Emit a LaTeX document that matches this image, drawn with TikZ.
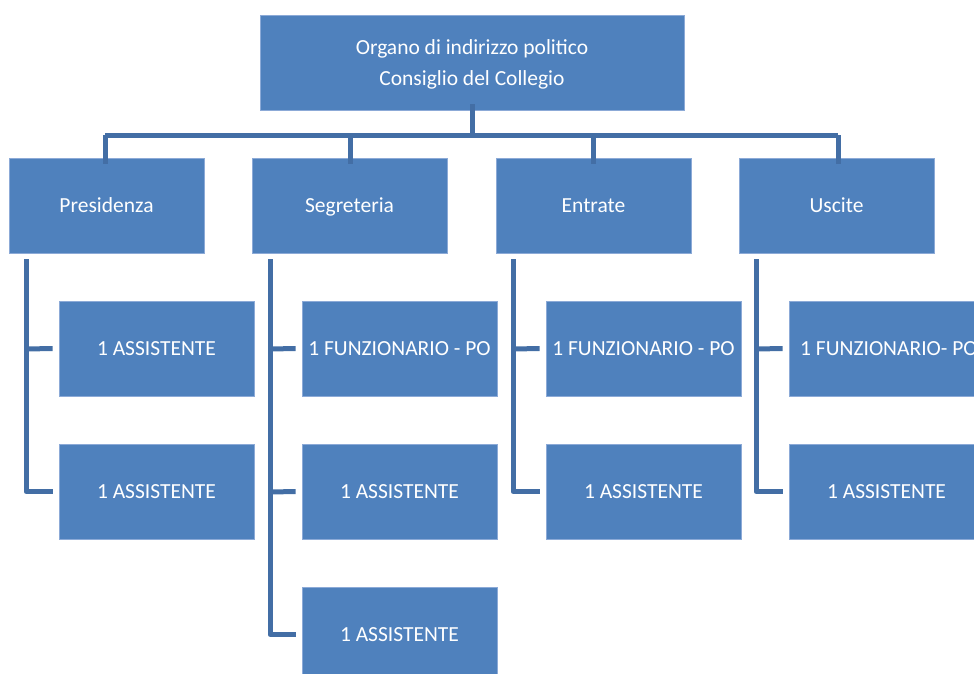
\documentclass[tikz,border=0pt]{standalone}
\usepackage{fontspec}
\setmainfont{Carlito}
\definecolor{boxblue}{RGB}{79,129,189}
\definecolor{boxedge}{RGB}{140,170,215}
\definecolor{linkblue}{RGB}{67,110,165}
\begin{document}
\begin{tikzpicture}[x=1pt,y=-1pt,
  unit/.style={draw=boxedge,line width=0.8pt,fill=boxblue,text=white,minimum width=195pt,minimum height=95pt,inner sep=0pt,font=\fontsize{21.5}{31}\selectfont,align=center},
  leaf/.style={unit,text height=14pt,text depth=0pt},
  caption/.style={text=white,inner sep=0pt,font=\fontsize{21.5}{31}\selectfont,align=center},
  link/.style={draw=linkblue,line width=5pt,line join=round,line cap=butt}]
\useasboundingbox (0,0) rectangle (974,673);
\clip (0,0) rectangle (974,673);
\node[unit,minimum width=424pt] (top) at (472,62.5) {};
\node[caption] (toptext) at (472,64.5) {Organo di indirizzo politico\\Consiglio del Collegio};
\node[leaf] (pres) at (106.5,205.5) {Presidenza};
\node[leaf] (segr) at (349.5,205.5) {Segreteria};
\node[leaf] (entr) at (593.5,205.5) {Entrate};
\node[leaf] (usc) at (836.5,205.5) {Uscite};
\node[leaf] (p1) at (156.5,348.5) {1 ASSISTENTE};
\node[leaf] (p2) at (156.5,491.5) {1 ASSISTENTE};
\node[leaf] (s1) at (399.5,348.5) {1 FUNZIONARIO - PO};
\node[leaf] (s2) at (399.5,491.5) {1 ASSISTENTE};
\node[leaf] (s3) at (399.5,634.5) {1 ASSISTENTE};
\node[leaf] (e1) at (643.5,348.5) {1 FUNZIONARIO - PO};
\node[leaf] (e2) at (643.5,491.5) {1 ASSISTENTE};
\node[leaf] (u1) at (886.5,348.5) {};
\node[caption,anchor=base west] (u1text) at (800,355.5) {1 FUNZIONARIO- PO};
\node[leaf] (u2) at (886.5,491.5) {1 ASSISTENTE};
% top level connectors
\coordinate (bar) at (472,135);
\draw[link] ([yshift=6pt]top.south) -- (bar);
\draw[link] (105,135) -- (838,135);
\draw[link] (105,135) -- ([yshift=-6pt]pres.north -| 105,0);
\draw[link] (350,135) -- ([yshift=-6pt]segr.north -| 350,0);
\draw[link] (593,135) -- ([yshift=-6pt]entr.north -| 593,0);
\draw[link] (838,135) -- ([yshift=-6pt]usc.north -| 838,0);
% Presidenza
\draw[link] (26,259) |- ([xshift=-6pt]p2.west);
\draw[link] (26,349) -- ([xshift=-6pt]p1.west);
% Segreteria
\draw[link] (270,259) |- ([xshift=-6pt]s3.west);
\draw[link] (270,349) -- ([xshift=-6pt]s1.west);
\draw[link] (270,492) -- ([xshift=-6pt]s2.west);
% Entrate
\draw[link] (513,259) |- ([xshift=-6pt]e2.west);
\draw[link] (513,349) -- ([xshift=-6pt]e1.west);
% Uscite
\draw[link] (756,259) |- ([xshift=-6pt]u2.west);
\draw[link] (756,349) -- ([xshift=-6pt]u1.west);
\end{tikzpicture}
\end{document}
